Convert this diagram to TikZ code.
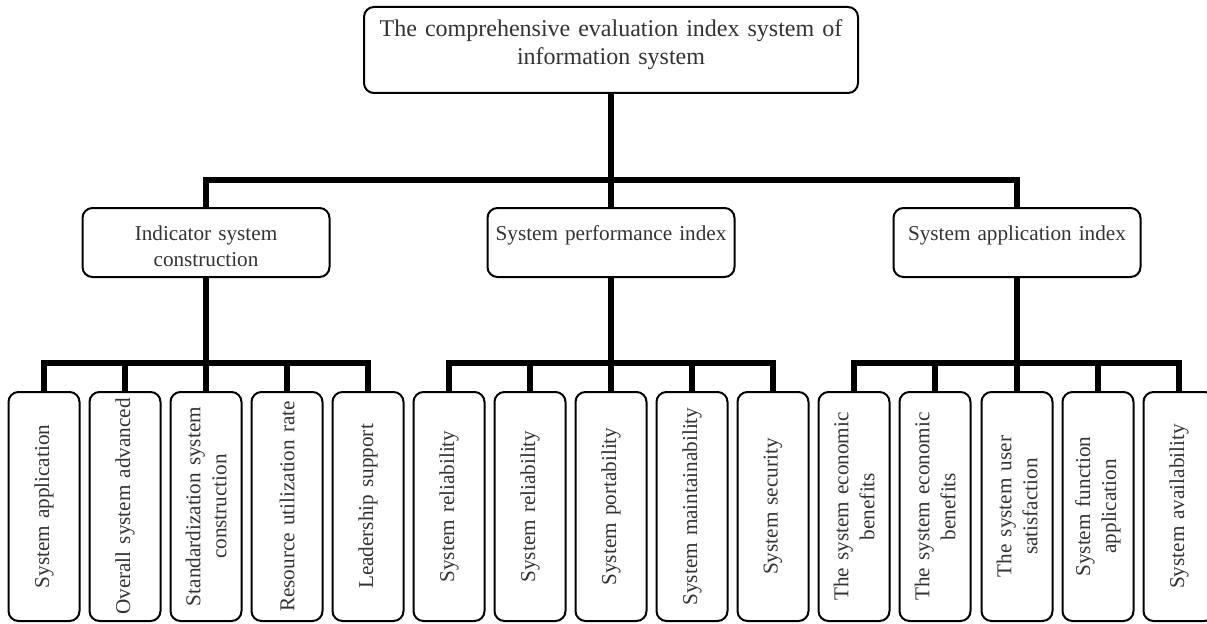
\documentclass[tikz,border=0pt]{standalone}
\usepackage{fontspec}
\setmainfont{Liberation Serif}

\tikzset{
  box/.style={draw=black, line width=1pt, rounded corners=5pt, fill=white,
    text=black!80, align=center, inner xsep=3pt, inner ysep=3pt},
  rootbox/.style={box, font=\fontsize{12}{13.5}\selectfont, text width=235pt,
    minimum width=247pt, text height=12pt, text depth=25pt},
  groupbox/.style={box, font=\fontsize{10.6}{13}\selectfont, text width=117pt,
    minimum width=123.5pt, text height=13pt, text depth=15.5pt},
  leafbox/.style={box, rotate=90, font=\fontsize{10.6}{13}\selectfont,
    text width=110pt, inner xsep=2pt, minimum width=114.5pt, minimum height=35.5pt},
  link/.style={line width=2.8pt},
}

\begin{document}
\begin{tikzpicture}[x=0.5pt, y=0.5pt]

\useasboundingbox (0, 0) rectangle (1207, 623);

\node[rootbox] (root) at (611, 573) {The comprehensive evaluation index system of\\information system};

\node[groupbox] (ind) at (206, 380.5) {Indicator system\\construction};
\node[groupbox] (perf) at (611, 380.5) {System performance index};
\node[groupbox] (app) at (1017, 380.5) {System application index};

\node[leafbox] (ind1) at (44, 116.5) {System application};
\node[leafbox] (ind2) at (125, 116.5) {Overall system advanced};
\node[leafbox] (ind3) at (206, 116.5) {Standardization system\\construction};
\node[leafbox] (ind4) at (287, 116.5) {Resource utilization rate};
\node[leafbox] (ind5) at (368, 116.5) {Leadership support};

\node[leafbox] (perf1) at (449, 116.5) {System reliability};
\node[leafbox] (perf2) at (530, 116.5) {System reliability};
\node[leafbox] (perf3) at (611, 116.5) {System portability};
\node[leafbox] (perf4) at (692, 116.5) {System maintainability};
\node[leafbox] (perf5) at (773, 116.5) {System security};

\node[leafbox] (app1) at (854, 116.5) {The system economic\\benefits};
\node[leafbox] (app2) at (935, 116.5) {The system economic\\benefits};
\node[leafbox] (app3) at (1017, 116.5) {The system user\\satisfaction};
\node[leafbox] (app4) at (1098, 116.5) {System function\\application};
\node[leafbox] (app5) at (1179, 116.5) {System availability};

% top level
\coordinate (hub) at (611, 443);
\draw[link] (root) -- (perf);
\draw[link] (ind) |- (hub) -| (app);

% second level
\coordinate (ind bus) at (206, 260);
\draw[link] (ind) -- (ind3);
\draw[link] (ind1) |- (ind bus) -| (ind5);
\draw[link] (ind2) -- (ind2 |- ind bus);
\draw[link] (ind4) -- (ind4 |- ind bus);

\coordinate (perf bus) at (611, 260);
\draw[link] (perf) -- (perf3);
\draw[link] (perf1) |- (perf bus) -| (perf5);
\draw[link] (perf2) -- (perf2 |- perf bus);
\draw[link] (perf4) -- (perf4 |- perf bus);

\coordinate (app bus) at (1017, 260);
\draw[link] (app) -- (app3);
\draw[link] (app1) |- (app bus) -| (app5);
\draw[link] (app2) -- (app2 |- app bus);
\draw[link] (app4) -- (app4 |- app bus);

\end{tikzpicture}
\end{document}
